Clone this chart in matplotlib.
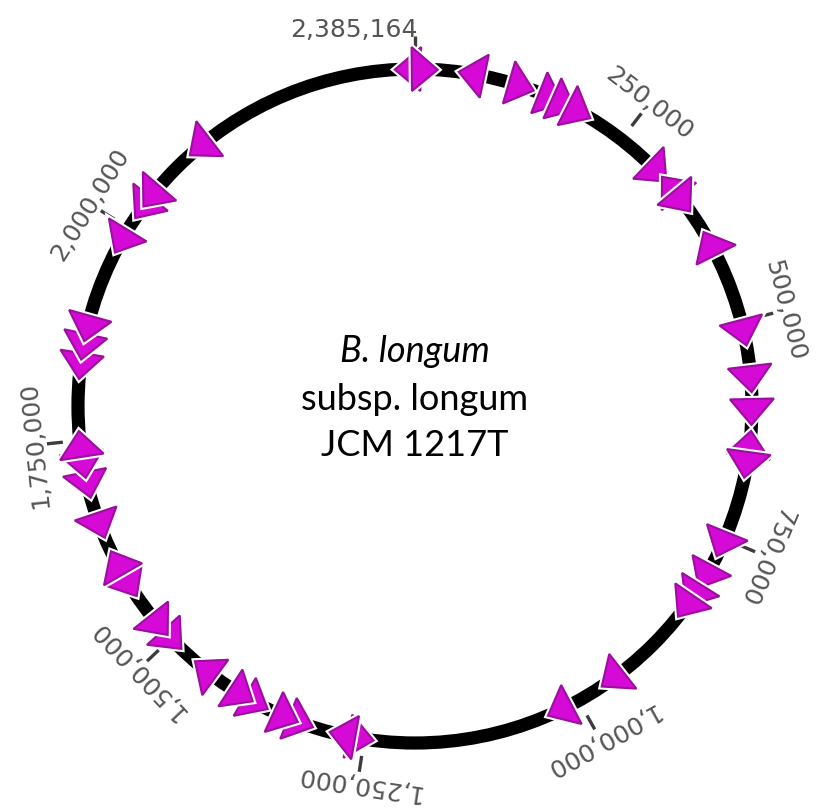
import numpy as np
import matplotlib.pyplot as plt
from matplotlib.patches import Polygon, Circle
import matplotlib.patheffects as pe

GENOME_LEN = 2385164

# scale marks around the chromosome
tick_pos = [250000, 500000, 750000, 1000000, 1250000, 1500000, 1750000, 2000000]
tick_labels = ['250,000', '500,000', '750,000', '1,000,000', '1,250,000',
               '1,500,000', '1,750,000', '2,000,000']
end_label = '2,385,164'

# feature start (bp) and strand: +1 forward (clockwise), -1 reverse
feat_pos = [2377000, 11000, 64000, 122000, 158000, 174000, 193000,
            305000, 327000, 348000, 405000, 513000, 566000, 603000,
            639000, 663000, 757000, 798000, 823000, 838000, 955000,
            1024000, 1254000, 1275000, 1324000, 1342000, 1379000, 1398000,
            1448000, 1498000, 1520000, 1576000, 1605000, 1651000, 1699000,
            1722000, 1746000, 1834000, 1856000, 1877000, 1983000, 2028000,
            2044000, 2122000]
feat_strand = [-1, 1, -1, 1, 1, 1, 1,
               1, -1, 1, -1, 1, 1, 1,
               -1, 1, 1, 1, 1, 1, 1,
               1, -1, 1, -1, -1, -1, -1,
               1, -1, -1, -1, 1, -1, -1,
               -1, 1, -1, -1, -1, -1, -1,
               -1, -1]

name_lines = ['B. longum', 'subsp. longum', 'JCM 1217T']

W, H = 817, 811
cx, cy = 415, 406
R = 337


def polar_xy(pos, r):
    t = 2 * np.pi * pos / GENOME_LEN
    return cx + r * np.sin(t), cy - r * np.cos(t)


fig = plt.figure(figsize=(W / 100, H / 100), dpi=100)
ax = fig.add_axes([0, 0, 1, 1])
ax.set_xlim(0, W)
ax.set_ylim(H, 0)
ax.axis('off')

# backbone
ax.add_patch(Circle((cx, cy), R, fill=False, lw=9.5, ec='black', zorder=1))

# ticks + labels
for p, lab in zip(tick_pos, tick_labels):
    x0, y0 = polar_xy(p, R + 17)
    x1, y1 = polar_xy(p, R + 33)
    ax.plot([x0, x1], [y0, y1], color='#3c3c3c', lw=2.4, solid_capstyle='butt', zorder=2)
    lx, ly = polar_xy(p, R + 45)
    ang = 360.0 * p / GENOME_LEN
    ax.text(lx, ly, lab, rotation=-ang, rotation_mode='anchor',
            ha='center', va='center', fontsize=18, color='#555555', zorder=2)

x0, y0 = polar_xy(0, R + 17)
x1, y1 = polar_xy(0, R + 33)
ax.plot([x0, x1], [y0, y1], color='#3c3c3c', lw=2.4, solid_capstyle='butt', zorder=2)
lx, ly = polar_xy(0, R + 39)
ax.text(lx + 3, ly, end_label, ha='right', va='center', fontsize=18, color='#555555')

# gene arrows
hw, hl = 22, 13
for p, s in zip(feat_pos, feat_strand):
    t = 2 * np.pi * p / GENOME_LEN
    dt = hl / R
    tb, tt = t - s * dt, t + s * dt
    pb = tb * GENOME_LEN / (2 * np.pi)
    pt = tt * GENOME_LEN / (2 * np.pi)
    verts = [polar_xy(pb, R - hw), polar_xy(pb, R + hw), polar_xy(pt, R)]
    tri = Polygon(verts, closed=True, fc='#d60ad6', ec='#9a0f9e', lw=1.5,
                  joinstyle='miter', zorder=3)
    tri.set_path_effects([pe.withStroke(linewidth=4.5, foreground='white')])
    ax.add_patch(tri)

# organism name in the middle
ys = [352, 399, 446]
for i, (line, y) in enumerate(zip(name_lines, ys)):
    ax.text(cx, y, line, ha='center', va='center', fontsize=26,
            family='Lato', style='italic' if i == 0 else 'normal', color='black')

fig.savefig('out.png', dpi=100)
